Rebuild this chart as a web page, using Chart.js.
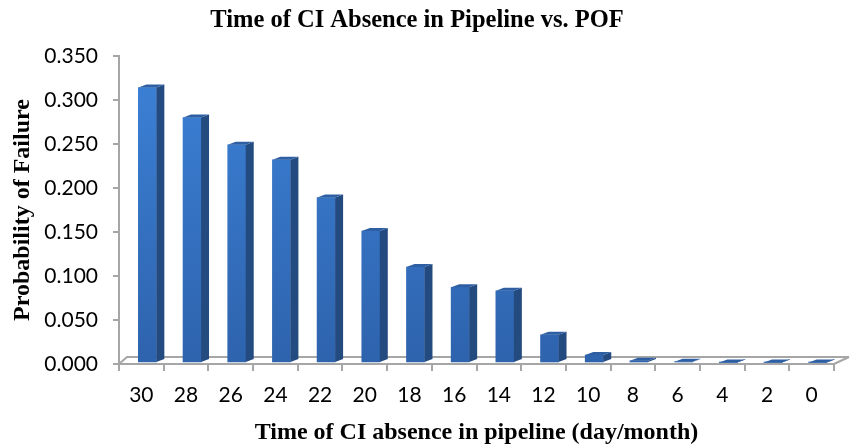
<!DOCTYPE html>
<html>
<head>
<meta charset="utf-8">
<script src="https://cdn.jsdelivr.net/npm/chart.js@4.4.1/dist/chart.umd.min.js"></script>
<style>
  html, body { margin: 0; padding: 0; background: #fff; }
  #wrap { width: 851px; height: 448px; }
</style>
</head>
<body>
<div id="wrap"><canvas id="pofChart" width="851" height="448"></canvas></div>
<script>
// days of corrosion inhibitor absence, longest first
var days = ['30', '28', '26', '24', '22', '20', '18', '16', '14', '12', '10', '8', '6', '4', '2', '0'];
// probability of failure for each period
var pof = [0.313, 0.279, 0.248, 0.231, 0.188, 0.150, 0.109, 0.086, 0.082, 0.032, 0.009, 0.0025, 0.0015, 0.0006, 0.0006, 0.0006];
var yTicks = { min: 0, max: 0.35, step: 0.05 };

var axisGray = '#a6a6a6';
var labelFont = { family: 'Lato', size: 21 };
var titleFont = { family: 'Liberation Serif', size: 24, weight: 'bold', lineHeight: 1.2 };

// fake depth for the excel-style 3d columns
var depth = { dx: 8, dy: -3, shiftX: 6, shiftY: -1 };

var bars3d = {
    id: 'bars3d',
    beforeDatasetsDraw: function (chart) {
        var ctx = chart.ctx;
        var a = chart.chartArea;
        // floor: back edge and the two slanted ends
        ctx.save();
        ctx.strokeStyle = axisGray;
        ctx.lineWidth = 2;
        ctx.beginPath();
        ctx.moveTo(a.left, a.bottom);
        ctx.lineTo(a.left + 8, a.bottom - 7);
        ctx.lineTo(a.right + 15, a.bottom - 7);
        ctx.moveTo(a.right, a.bottom);
        ctx.lineTo(a.right + 15, a.bottom - 7);
        ctx.stroke();
        ctx.restore();

        ctx.save();
        ctx.translate(depth.shiftX, depth.shiftY);
    },
    afterDatasetsDraw: function (chart) {
        var ctx = chart.ctx;
        var meta = chart.getDatasetMeta(0);
        meta.data.forEach(function (bar) {
            var p = bar.getProps(['x', 'y', 'base', 'width'], true);
            var l = p.x - p.width / 2, r = p.x + p.width / 2;
            // side face
            ctx.fillStyle = '#244b80';
            ctx.beginPath();
            ctx.moveTo(r, p.y);
            ctx.lineTo(r + depth.dx, p.y + depth.dy);
            ctx.lineTo(r + depth.dx, p.base + depth.dy);
            ctx.lineTo(r, p.base);
            ctx.closePath();
            ctx.fill();
            // top face
            ctx.fillStyle = '#2f5fa3';
            ctx.beginPath();
            ctx.moveTo(l, p.y);
            ctx.lineTo(l + depth.dx, p.y + depth.dy);
            ctx.lineTo(r + depth.dx, p.y + depth.dy);
            ctx.lineTo(r, p.y);
            ctx.closePath();
            ctx.fill();
        });
        ctx.restore();
    }
};

function frontFill(context) {
    var chart = context.chart;
    var a = chart.chartArea;
    if (!a) return '#3675c6';
    var g = chart.ctx.createLinearGradient(0, a.top, 0, a.bottom);
    g.addColorStop(0, '#3c82d8');
    g.addColorStop(1, '#2e63ad');
    return g;
}

new Chart(document.getElementById('pofChart').getContext('2d'), {
    type: 'bar',
    data: {
        labels: days,
        datasets: [{
            data: pof,
            backgroundColor: frontFill,
            borderWidth: 0,
            barThickness: 18
        }]
    },
    options: {
        responsive: false,
        animation: false,
        devicePixelRatio: 1,
        layout: { padding: { left: 0, right: 17, top: 0, bottom: 0 } },
        plugins: {
            legend: { display: false },
            tooltip: { enabled: false },
            title: {
                display: true,
                text: 'Time of CI Absence in Pipeline vs. POF',
                color: '#000',
                font: { family: 'Liberation Serif', size: 24.5, weight: 'bold', lineHeight: 1.2 },
                padding: { top: 6, bottom: 20.6 }
            }
        },
        scales: {
            x: {
                afterFit: function (s) { s.height = 84; },
                grid: { drawOnChartArea: false, tickLength: 7, color: axisGray, lineWidth: 2 },
                border: { color: axisGray, width: 2 },
                ticks: { color: '#000', font: labelFont, padding: 12, maxRotation: 0 },
                title: {
                    display: true,
                    text: 'Time of CI absence in pipeline (day/month)',
                    color: '#000',
                    font: titleFont,
                    padding: { top: 0, bottom: 1 }
                }
            },
            y: {
                min: yTicks.min,
                max: yTicks.max,
                afterFit: function (s) { s.width = 119; },
                grid: { drawOnChartArea: false, tickLength: 6, color: axisGray, lineWidth: 2 },
                border: { color: axisGray, width: 2 },
                ticks: {
                    stepSize: yTicks.step,
                    color: '#000',
                    font: labelFont,
                    padding: 15,
                    callback: function (v) { return v.toFixed(3); }
                },
                title: {
                    display: true,
                    text: 'Probability of Failure',
                    color: '#000',
                    font: titleFont,
                    padding: { top: 8, bottom: 0 }
                }
            }
        }
    },
    plugins: [bars3d]
});
</script>
</body>
</html>
